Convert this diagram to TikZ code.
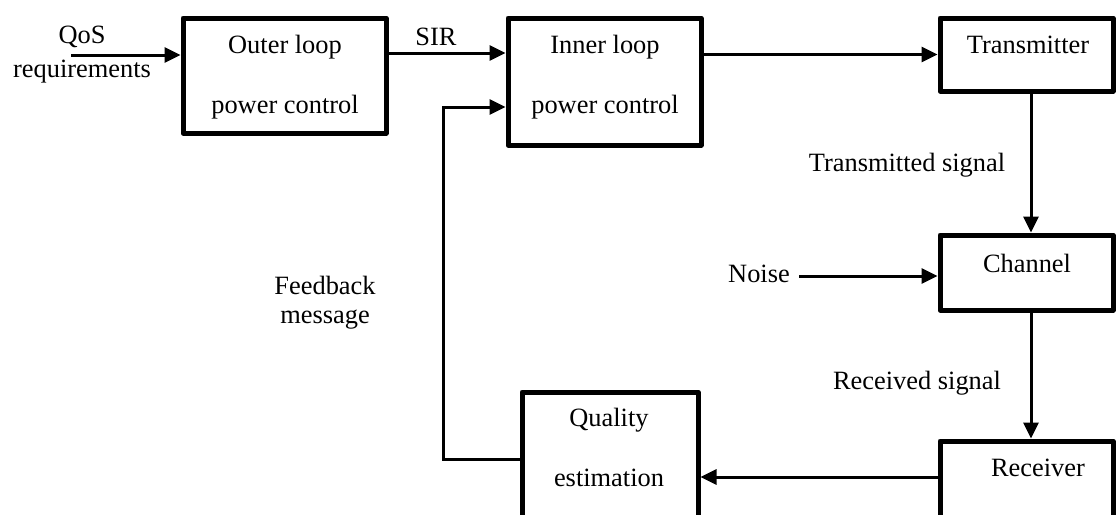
\documentclass[tikz,border=0pt]{standalone}
\usepackage{fontspec}
\setmainfont{Liberation Serif}
\usetikzlibrary{arrows.meta}
\begin{document}
\begin{tikzpicture}[x=0.5pt,y=-0.5pt,
  blk/.style={draw, line width=2.5pt, line join=round, inner sep=0pt, fill=white},
  txt/.style={inner sep=0pt, font=\fontsize{13.2}{16}\selectfont},
  arr/.style={line width=1.5pt, -{Triangle[length=8pt,width=7.5pt]}},
]
\useasboundingbox (0,0) rectangle (1117,514);
\clip (0,0) rectangle (1117,514);

% blocks
\node[blk, minimum width=101.5pt, minimum height=57.5pt] (outer) at (284.5,75.5) {};
\node[blk, minimum width=96.5pt, minimum height=63.5pt] (inner) at (604.5,81.5) {};
\node[blk, minimum width=86.5pt, minimum height=36.5pt] (tx) at (1026.5,54.5) {};
\node[blk, minimum width=86.5pt, minimum height=37.5pt] (ch) at (1026.5,272.5) {};
\node[blk, minimum width=88pt, minimum height=80pt] (q) at (610,472) {};
\node[blk, minimum width=86.5pt, minimum height=60pt] (rx) at (1026.5,501) {};

% block texts
\node[txt] at (285,47) {Outer loop};
\node[txt] at (285,107) {power control};
\node[txt] at (605,47) {Inner loop};
\node[txt] at (605,107) {power control};
\node[txt] at (1028,45) {Transmitter};
\node[txt] at (1027,263) {Channel};
\node[txt] at (1038,468) {Receiver};
\node[txt] at (609,420) {Quality};
\node[txt] at (609,478) {estimation};

% free labels
\node[txt] at (82,37) {QoS};
\node[txt] at (82,72) {requirements};
\node[txt] at (436,37) {SIR};
\node[txt] at (907,165) {Transmitted signal};
\node[txt] (noise) at (759,274) {Noise};
\node[txt] at (917,383) {Received signal};
\node[txt] at (325,285) {Feedback};
\node[txt] at (325,320) {message};

% routing points
\coordinate (qos) at (71,55);
\coordinate (sir) at (450,53);
\coordinate (vx) at (1031,0);
\coordinate (nz) at (799,276);
\coordinate (rq) at (800,477);
\coordinate (fbl) at (443,459);
\coordinate (fbu) at (443,107);

% connectors
\draw[arr] (qos) -- (qos -| outer.west);
\draw[arr] (sir -| outer.east) -- (sir -| inner.west);
\draw[arr] (tx.west -| inner.east) -- (tx.west);
\draw[arr] (vx |- tx.south) -- (vx |- ch.north);
\draw[arr] (nz) -- (nz -| ch.west);
\draw[arr] (vx |- ch.south) -- (vx |- rx.north);
\draw[arr] (rq -| rx.west) -- (rq -| q.east);
\draw[arr] (fbl -| q.west) -- (fbl) -- (fbu) -- (fbu -| inner.west);
\end{tikzpicture}
\end{document}
